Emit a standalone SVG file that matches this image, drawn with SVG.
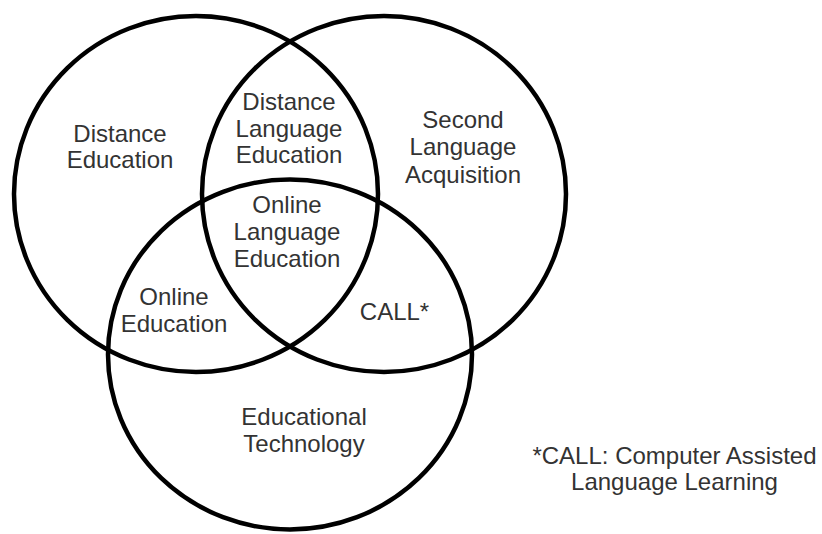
<svg xmlns="http://www.w3.org/2000/svg" width="822" height="534" viewBox="0 0 822 534">
  <style>
    .ring { fill: none; stroke: #000; stroke-width: 4.5; }
    .lbl { font-family: "Liberation Sans", Arial, sans-serif; font-size: 24px; fill: #333; text-anchor: middle; }
  </style>
  <rect width="822" height="534" fill="#fff"/>

  <!-- three overlapping sets -->
  <g id="distance-education">
    <ellipse class="ring" cx="196" cy="194" rx="182" ry="178"/>
    <text class="lbl"><tspan x="120" y="142">Distance</tspan><tspan x="120" y="168">Education</tspan></text>
  </g>
  <g id="second-language-acquisition">
    <ellipse class="ring" cx="384" cy="194" rx="182" ry="178"/>
    <text class="lbl"><tspan x="463" y="128">Second</tspan><tspan x="463" y="155">Language</tspan><tspan x="463" y="183">Acquisition</tspan></text>
  </g>
  <g id="educational-technology">
    <ellipse class="ring" cx="290" cy="354.5" rx="182" ry="175"/>
    <text class="lbl"><tspan x="304" y="425">Educational</tspan><tspan x="304" y="452">Technology</tspan></text>
  </g>

  <!-- overlap regions -->
  <g id="distance-language-education">
    <text class="lbl"><tspan x="289" y="110">Distance</tspan><tspan x="289" y="137">Language</tspan><tspan x="289" y="163">Education</tspan></text>
  </g>
  <g id="online-language-education">
    <text class="lbl"><tspan x="287" y="213">Online</tspan><tspan x="287" y="240">Language</tspan><tspan x="287" y="267">Education</tspan></text>
  </g>
  <g id="online-education">
    <text class="lbl"><tspan x="174" y="305">Online</tspan><tspan x="174" y="332">Education</tspan></text>
  </g>
  <g id="call">
    <text class="lbl" x="394.5" y="320">CALL*</text>
  </g>

  <!-- footnote -->
  <g id="footnote">
    <text class="lbl"><tspan x="674.5" y="464">*CALL: Computer Assisted</tspan><tspan x="674.5" y="490">Language Learning</tspan></text>
  </g>
</svg>
